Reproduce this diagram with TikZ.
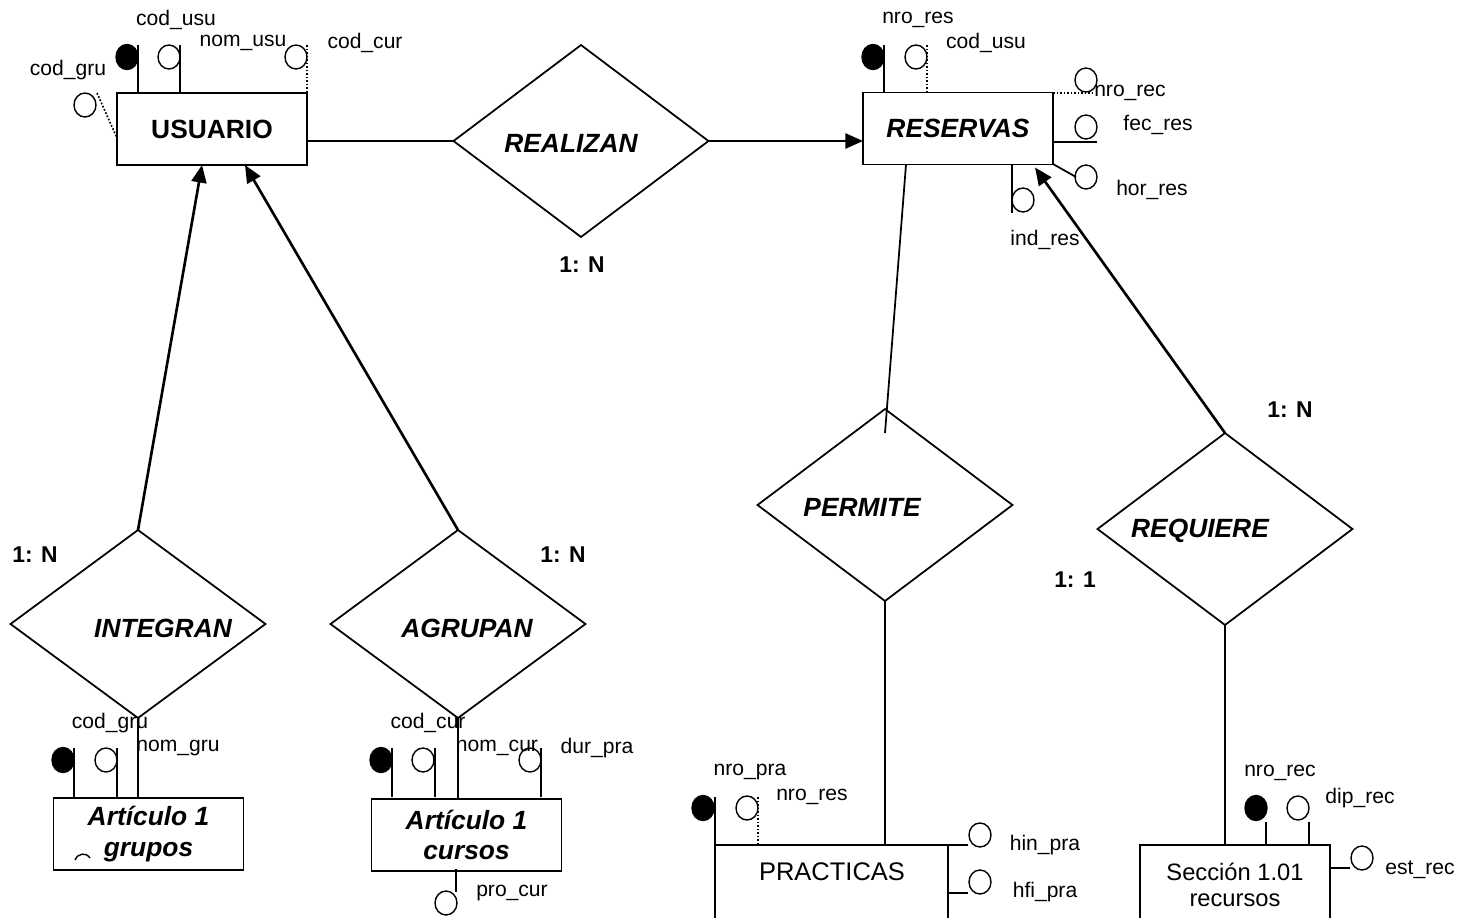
\documentclass[tikz,border=0pt]{standalone}
\usepackage{fontspec}
\setmainfont{Liberation Sans}
\usetikzlibrary{shapes.geometric,arrows.meta,calc}

\tikzset{
  entity/.style={draw, line width=1pt, minimum width=3.8cm, minimum height=1.44cm,
    inner sep=0pt, outer sep=0pt, align=center},
  rel/.style={draw, diamond, line width=1pt, minimum width=5.1cm, minimum height=3.84cm,
    inner sep=0pt, outer sep=0pt},
  reltext/.style={font=\fontsize{15}{18}\selectfont\bfseries\itshape, inner sep=0pt},
  enttext/.style={font=\fontsize{15}{18}\selectfont\bfseries},
  attrtext/.style={font=\fontsize{12}{14}\selectfont, inner sep=0pt},
  card/.style={font=\fontsize{13}{15}\selectfont\bfseries, inner sep=0pt},
  stub/.style={line width=1pt},
  dotstub/.style={line width=0.9pt, dash pattern=on 1pt off 1pt},
  keyattr/.style={fill=black, line width=0.8pt},
  plainattr/.style={line width=0.8pt},
  link/.style={line width=1pt},
  arrowlink/.style={line width=1.5pt, -{Triangle[length=10pt,width=8.5pt]}}
}

\begin{document}
\begin{tikzpicture}[x=0.02cm, y=-0.02cm]
\useasboundingbox (0,0) rectangle (1464,917);

% entidades
\node[entity, enttext] (usuario) at (212,129) {USUARIO};
\node[entity, enttext, font=\fontsize{15}{18}\selectfont\bfseries\itshape] (reservas) at (958,128.5) {RESERVAS};
\node[entity, font=\fontsize{15}{18}\selectfont\bfseries\itshape] (grupos) at (148.5,834) {Artículo 1\\grupos};
\node[entity, font=\fontsize{15}{17}\selectfont\bfseries\itshape] (cursos) at (466.5,835) {Artículo 1\\cursos};
\node[entity, anchor=north west, minimum width=4.66cm, minimum height=1.8cm] (practicas) at (715,845) {};
\node[font=\fontsize{14.5}{16}\selectfont, inner sep=0pt] (practicas-t) at (832,872) {PRACTICAS};
\node[entity, minimum height=1.6cm, font=\fontsize{13.5}{15}\selectfont] (recursos) at (1235,885) {Sección 1.01\\recursos};

% relaciones
\node[rel] (realizan) at (581,141) {};
\node[rel, minimum height=3.76cm] (integran) at (138,624) {};
\node[rel, minimum height=3.76cm] (agrupan) at (458,624) {};
\node[rel] (permite) at (885,505) {};
\node[rel] (requiere) at (1225,529) {};
\node[reltext] (realizan-t) at (571,143) {REALIZAN};
\node[reltext] (integran-t) at (163,628) {INTEGRAN};
\node[reltext] (agrupan-t) at (467,628) {AGRUPAN};
\node[reltext] (permite-t) at (862,507) {PERMITE};
\node[reltext] (requiere-t) at (1200,531) {REQUIERE};

% conectores
\draw[link] (usuario.east |- realizan.west) -- (realizan.west);
\draw[arrowlink] (realizan.east) -- (reservas.west |- realizan.east);
\draw[arrowlink] (integran.north) -- ([xshift=-0.2cm]usuario.south);
\draw[arrowlink] (agrupan.north) -- ([xshift=0.66cm]usuario.south);
\coordinate (permite-in) at ([yshift=-0.48cm]permite.north);
\draw[link] ([xshift=-1.04cm]reservas.south) -- (permite-in);
\draw[arrowlink] (requiere.north) -- ([xshift=1.54cm,yshift=-0.06cm]reservas.south);
\draw[link] (permite.south) -- (permite.south |- practicas.north);
\draw[link] (requiere.south) -- (requiere.south |- recursos.north);
\draw[link] (integran.south) -- (integran.south |- grupos.north);
\draw[link] (agrupan.south) -- (agrupan.south |- cursos.north);

% cardinalidades
\node[card] (c-realizan) at (582,265) {1: N};
\node[card] (c-integran) at (35,555) {1: N};
\node[card] (c-agrupan) at (563,555) {1: N};
\node[card] (c-requiere) at (1290,410) {1: N};
\node[card] (c-permite) at (1075,580) {1: 1};

% atributos de USUARIO
\draw[keyattr] (127,57) ellipse (11 and 12.5);
\draw[stub] (138,45) -- (138,93);
\draw[plainattr] (169,57) ellipse (11 and 12);
\draw[stub] (180,45) -- (180,93);
\draw[plainattr] (296,57) ellipse (11 and 12);
\draw[dotstub] (307,45) -- (307,93);
\draw[plainattr] (85,105) ellipse (11 and 12);
\draw[dotstub] (97,93) -- (117,138);
\node[attrtext] (u-cod_usu) at (176,20) {cod\_usu};
\node[attrtext] (u-nom_usu) at (243,43) {nom\_usu};
\node[attrtext] (u-cod_cur) at (365,43) {cod\_cur};
\node[attrtext] (u-cod_gru) at (68,70) {cod\_gru};

% atributos de RESERVAS
\draw[keyattr] (873,57) ellipse (11 and 12.5);
\draw[stub] (884,45) -- (884,93);
\draw[plainattr] (916,57) ellipse (11 and 12);
\draw[dotstub] (927,45) -- (927,93);
\draw[plainattr] (1086,80) ellipse (11 and 12);
\draw[dotstub] (1053,93) -- (1093,93);
\draw[plainattr] (1086,127) ellipse (11 and 12);
\draw[stub] (1053,142) -- (1097,142);
\draw[plainattr] (1086,177) ellipse (11 and 12);
\draw[stub] (1053,164) -- (1076,177);
\draw[plainattr] (1023,200) ellipse (11 and 12);
\draw[stub] (1012,164) -- (1012,213);
\node[attrtext] (r-nro_res) at (918,20) {nro\_res};
\node[attrtext] (r-cod_usu) at (986,43) {cod\_usu};
\node[attrtext] (r-nro_rec) at (1130,93) {nro\_rec};
\node[attrtext] (r-fec_res) at (1158,125) {fec\_res};
\node[attrtext] (r-hor_res) at (1152,190) {hor\_res};
\node[attrtext] (r-ind_res) at (1045,240) {ind\_res};

% atributos de grupos
\draw[keyattr] (63,760) ellipse (11 and 12.5);
\draw[stub] (74,748) -- (74,797);
\draw[plainattr] (106,760) ellipse (11 and 12);
\draw[stub] (117,748) -- (117,797);
\draw[plainattr] (75,860) .. controls (78,853) and (86,852) .. (90,858);
\node[attrtext] (g-cod_gru) at (110,723) {cod\_gru};
\node[attrtext] (g-nom_gru) at (178,748) {nom\_gru};

% atributos de cursos
\draw[keyattr] (381,760) ellipse (11 and 12.5);
\draw[stub] (392,748) -- (392,797);
\draw[plainattr] (423,760) ellipse (11 and 12);
\draw[stub] (435,748) -- (435,797);
\draw[plainattr] (530,760) ellipse (11 and 12);
\draw[stub] (541,748) -- (541,797);
\draw[stub] (456,869) -- (456,892);
\draw[plainattr] (446,903) ellipse (11 and 12);
\node[attrtext] (c-cod_cur) at (428,723) {cod\_cur};
\node[attrtext] (c-nom_cur) at (497,748) {nom\_cur};
\node[attrtext] (c-dur_pra) at (597,748) {dur\_pra};
\node[attrtext] (c-pro_cur) at (512,893) {pro\_cur};

% atributos de PRACTICAS
\draw[keyattr] (703,808) ellipse (11 and 12.5);
\draw[stub] (715,797) -- (715,845);
\draw[plainattr] (747,808) ellipse (11 and 12);
\draw[dotstub] (758,797) -- (758,845);
\draw[stub] (948,845) -- (968,845);
\draw[plainattr] (980,835) ellipse (11 and 12);
\draw[stub] (948,893) -- (968,893);
\draw[plainattr] (980,882) ellipse (11 and 12);
\node[attrtext] (p-nro_pra) at (750,772) {nro\_pra};
\node[attrtext] (p-nro_res) at (812,797) {nro\_res};
\node[attrtext] (p-hin_pra) at (1045,845) {hin\_pra};
\node[attrtext] (p-hfi_pra) at (1045,892) {hfi\_pra};

% atributos de recursos
\draw[keyattr] (1256,808) ellipse (11 and 12.5);
\draw[stub] (1266,822) -- (1266,845);
\draw[plainattr] (1298,808) ellipse (11 and 12);
\draw[stub] (1309,822) -- (1309,845);
\draw[stub] (1330,868) -- (1350,868);
\draw[plainattr] (1362,858) ellipse (11 and 12);
\node[attrtext] (s-nro_rec) at (1280,773) {nro\_rec};
\node[attrtext] (s-dip_rec) at (1360,798) {dip\_rec};
\node[attrtext] (s-est_rec) at (1420,870) {est\_rec};
\end{tikzpicture}
\end{document}
